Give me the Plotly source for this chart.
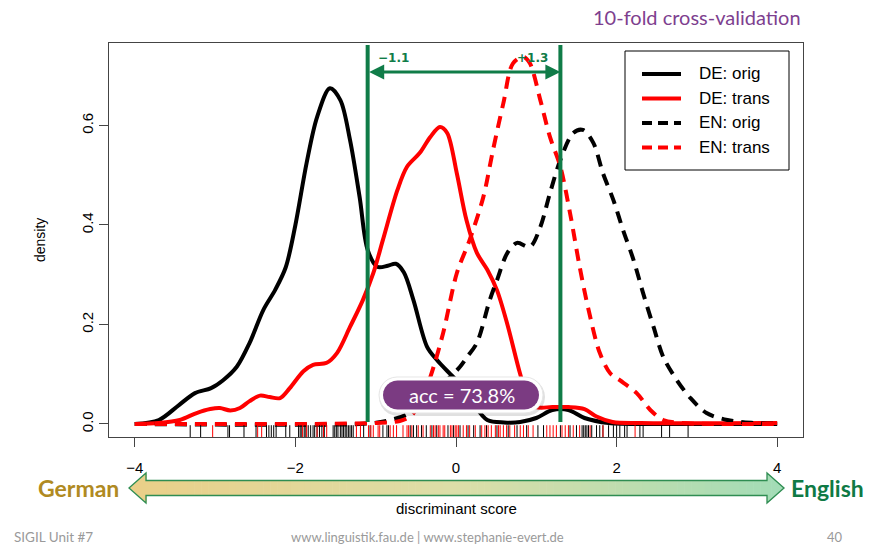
import math
import plotly.graph_objects as go

W, H = 883, 544

# ---- kernel density estimates of the discriminant score ----
de_orig_x = [-4.0, -3.7, -3.45, -3.25, -3.05, -2.9, -2.73, -2.57, -2.40, -2.25, -2.12, -2.0,
             -1.86, -1.73, -1.57, -1.44, -1.32, -1.2, -1.1, -0.98, -0.85, -0.75, -0.65, -0.53,
             -0.36, -0.24, -0.07, 0.1, 0.21, 0.39, 0.6, 0.8, 1.0, 1.2, 1.4, 1.6, 1.9, 2.5, 4.0]
de_orig_y = [0.0, 0.008, 0.038, 0.062, 0.072, 0.088, 0.115, 0.163, 0.229, 0.270, 0.315, 0.40,
             0.525, 0.617, 0.675, 0.651, 0.571, 0.456, 0.350, 0.316, 0.318, 0.322, 0.305, 0.249,
             0.155, 0.129, 0.100, 0.072, 0.042, 0.008, 0.003, 0.004, 0.012, 0.028, 0.028, 0.012,
             0.002, 0.0, 0.0]

de_trans_x = [-4.0, -3.7, -3.44, -3.23, -3.06, -2.94, -2.81, -2.69, -2.57, -2.44, -2.32, -2.19,
              -2.07, -1.9, -1.78, -1.61, -1.48, -1.32, -1.16, -1.03, -0.91, -0.73, -0.61, -0.45,
              -0.32, -0.2, -0.11, 0.01, 0.13, 0.26, 0.39, 0.51, 0.64, 0.8, 0.9, 1.0, 1.2, 1.4,
              1.6, 1.75, 1.95, 2.3, 4.0]
de_trans_y = [0.0, 0.002, 0.008, 0.022, 0.030, 0.032, 0.027, 0.032, 0.046, 0.057, 0.054, 0.052,
              0.072, 0.106, 0.119, 0.123, 0.143, 0.195, 0.249, 0.303, 0.370, 0.470, 0.517, 0.545,
              0.577, 0.597, 0.585, 0.504, 0.410, 0.344, 0.310, 0.269, 0.200, 0.100, 0.050, 0.034,
              0.034, 0.034, 0.030, 0.015, 0.004, 0.002, 0.002]

en_orig_x = [-4.0, -1.2, -0.9, -0.6, -0.3, -0.05, 0.05, 0.14, 0.26, 0.42, 0.51, 0.64, 0.76,
             0.92, 1.05, 1.17, 1.30, 1.46, 1.58, 1.71, 1.83, 1.96, 2.08, 2.21, 2.33, 2.46, 2.58,
             2.75, 2.92, 3.12, 3.38, 3.7, 4.0]
en_orig_y = [0.0, 0.0, 0.005, 0.02, 0.06, 0.098, 0.115, 0.135, 0.163, 0.249, 0.289, 0.344, 0.364,
             0.356, 0.396, 0.464, 0.531, 0.585, 0.591, 0.565, 0.504, 0.450, 0.390, 0.330, 0.263,
             0.195, 0.135, 0.088, 0.052, 0.022, 0.008, 0.002, 0.0]

en_trans_x = [-4.0, -1.0, -0.7, -0.57, -0.45, -0.32, -0.16, 0.01, 0.17, 0.34, 0.46, 0.59, 0.71,
              0.84, 0.92, 1.05, 1.17, 1.30, 1.42, 1.54, 1.65, 1.79, 1.92, 2.04, 2.25, 2.42, 2.58,
              2.8, 4.0]
en_trans_y = [0.0, 0.002, 0.006, 0.015, 0.040, 0.094, 0.183, 0.303, 0.370, 0.456, 0.550, 0.645,
              0.725, 0.738, 0.725, 0.651, 0.577, 0.517, 0.424, 0.316, 0.230, 0.143, 0.102, 0.088,
              0.062, 0.028, 0.008, 0.002, 0.0]

# ---- individual texts (rug) ----
rug_black = [-3.31, -3.18, -2.84, -2.82, -2.64, -2.49, -2.36, -2.33, -2.30, -2.27, -2.24, -2.12,
             -2.07, -1.96, -1.94, -1.92, -1.89, -1.87, -1.84, -1.81, -1.78, -1.76, -1.73, -1.70,
             -1.67, -1.64, -1.53, -1.51, -1.49, -1.47, -1.44, -1.42, -1.40, -1.38, -1.36, -1.34,
             -1.32, -1.30, -1.28, -1.15, -1.07, -0.91, -0.86, -0.84, -0.57, -0.53, -0.49, -0.43,
             -0.37, -0.30, -0.24, -0.10, -0.03, 0.05, 0.15, 0.22, 0.30, 0.38, 0.51, 0.65, 0.76,
             0.88, 1.02, 1.09, 1.30, 1.42, 1.50, 1.57, 1.59, 1.61, 1.63, 1.65, 1.69, 1.75, 1.79,
             1.83, 1.90, 1.96, 2.00, 2.04, 2.10, 2.13, 2.29, 2.33, 2.56, 2.66, 2.89]
rug_red = [-3.03, -2.47, -2.42, -1.91, -1.86, -1.73, -1.65, -1.61, -1.24, -1.19, -1.09, -1.06,
           -1.03, -0.97, -0.95, -0.82, -0.78, -0.74, -0.66, -0.61, -0.59, -0.55, -0.47, -0.41,
           -0.32, -0.28, -0.26, -0.22, -0.20, -0.16, -0.14, -0.07, -0.05, -0.01, 0.01, 0.03,
           0.09, 0.13, 0.17, 0.24, 0.32, 0.36, 0.40, 0.44, 0.49, 0.53, 0.55, 0.59, 0.63, 0.67,
           0.73, 0.80, 0.84, 0.90, 0.96, 1.13, 1.17, 1.21, 1.25, 1.32, 1.36, 1.40, 1.46, 1.54,
           1.67, 1.83, 2.23]

x_ticks = [-4, -2, 0, 2, 4]
y_ticks = [0.0, 0.2, 0.4, 0.6]
cut_lo, cut_hi = -1.1, 1.3
accuracy = 73.8
legend_labels = ["DE: orig", "DE: trans", "EN: orig", "EN: trans"]

# ---- styling ----
GREEN = "#107c48"
PURPLE = "#7b3b82"
LW = 4
series = [
    (de_orig_x, de_orig_y, "black", "solid"),
    (de_trans_x, de_trans_y, "#ff0000", "solid"),
    (en_orig_x, en_orig_y, "black", "12px,8px"),
    (en_trans_x, en_trans_y, "#ff0000", "12px,8px"),
]

XR = [-4.321, 4.321]
YR = [-0.0262, 0.7658]
RUG_TOP = -0.0025


def px(x):
    return x / W


def py(y):
    return 1 - y / H


def path_from(points):
    return "M " + " L ".join(f"{px(a):.5f},{py(b):.5f}" for a, b in points) + " Z"


def pill(cx, cy, w, h):
    r = h / 2
    pts = []
    for i in range(13):
        t = math.pi / 2 + math.pi * i / 12
        pts.append((cx - w / 2 + r + r * math.cos(t), cy - r * math.sin(t)))
    for i in range(13):
        t = -math.pi / 2 + math.pi * i / 12
        pts.append((cx + w / 2 - r + r * math.cos(t), cy - r * math.sin(t)))
    return path_from(pts)


def label(x, y, text, size, color, family="Lato", xanchor="center", angle=0):
    return dict(xref="paper", yref="paper", x=px(x), y=py(y), text=text, showarrow=False,
                xanchor=xanchor, yanchor="middle", textangle=angle,
                font=dict(family=family, size=size, color=color))


fig = go.Figure()

for xs, ys, col, dash in series:
    fig.add_trace(go.Scatter(x=xs, y=ys, mode="lines",
                             line=dict(color=col, width=LW, dash=dash, shape="spline",
                                       smoothing=0.9),
                             hoverinfo="skip", showlegend=False))


def rug_trace(vals, col):
    rx, ry = [], []
    for v in vals:
        rx += [v, v, None]
        ry += [YR[0], RUG_TOP, None]
    return go.Scatter(x=rx, y=ry, mode="lines", line=dict(color=col, width=1),
                      hoverinfo="skip", showlegend=False)


fig.add_trace(rug_trace(rug_black, "black"))
fig.add_trace(rug_trace(rug_red, "#ff0000"))

shapes = []
annotations = []

# threshold lines
for v in (cut_lo, cut_hi):
    shapes.append(dict(type="line", xref="x", yref="y", x0=v, x1=v, y0=0.004, y1=0.762,
                       line=dict(color=GREEN, width=4), layer="above"))

# legend box
shapes.append(dict(type="rect", xref="paper", yref="paper", x0=px(625), x1=px(789), y0=py(170),
                   y1=py(51), line=dict(color="black", width=1), fillcolor="white", layer="above"))
for i, (lab, (_, _, col, dash)) in enumerate(zip(legend_labels, series)):
    yy = 74 + i * 24.5
    shapes.append(dict(type="line", xref="paper", yref="paper", x0=px(642), x1=px(681),
                       y0=py(yy), y1=py(yy),
                       line=dict(color=col, width=LW, dash="solid" if dash == "solid" else "10px,6px"),
                       layer="above"))
    annotations.append(label(697, yy, lab, 17, "black", family="Liberation Sans", xanchor="left"))

# accuracy badge
shapes.append(dict(type="path", xref="paper", yref="paper", path=pill(462, 397, 166, 38),
                   fillcolor="rgba(0,0,0,0.12)", line=dict(width=0), layer="above"))
shapes.append(dict(type="path", xref="paper", yref="paper", path=pill(461, 395, 164, 36),
                   fillcolor="white", line=dict(color="#e6e6e6", width=1), layer="above"))
shapes.append(dict(type="path", xref="paper", yref="paper", path=pill(461, 395, 156, 29),
                   fillcolor=PURPLE, line=dict(width=0), layer="above"))
annotations.append(label(462, 395, f"acc = {accuracy}%", 20, "white"))

# gradient double arrow under the x axis
L_TIP, L_HEAD, R_HEAD, R_TIP = 129, 146, 767, 784
CY, SHAFT, HEAD = 488, 7.5, 15


def halfh(x, side):
    if x < L_HEAD or (x == L_HEAD and side == "l"):
        return HEAD * (x - L_TIP) / (L_HEAD - L_TIP)
    if x > R_HEAD or (x == R_HEAD and side == "r"):
        return HEAD * (R_TIP - x) / (R_TIP - R_HEAD)
    return SHAFT


c_left, c_mid, c_right = (234, 207, 136), (220, 222, 168), (162, 220, 182)


def grad(t):
    if t < 0.5:
        a, b, u = c_left, c_mid, t / 0.5
    else:
        a, b, u = c_mid, c_right, (t - 0.5) / 0.5
    return "rgb(%d,%d,%d)" % tuple(round(a[k] + (b[k] - a[k]) * u) for k in range(3))


edges = [L_TIP + (L_HEAD - L_TIP) * i / 4 for i in range(4)]
edges += [L_HEAD + (R_HEAD - L_HEAD) * i / 90 for i in range(90)]
edges += [R_HEAD + (R_TIP - R_HEAD) * i / 4 for i in range(5)]
for a, b in zip(edges[:-1], edges[1:]):
    ha, hb = halfh(a, "r"), halfh(b, "l")
    b2 = b + 0.6
    t = ((a + b) / 2 - L_TIP) / (R_TIP - L_TIP)
    shapes.append(dict(type="path", xref="paper", yref="paper",
                       path=path_from([(a, CY - ha), (b2, CY - hb), (b2, CY + hb), (a, CY + ha)]),
                       fillcolor=grad(t), line=dict(width=0), layer="above"))
outline = [(L_TIP, CY), (L_HEAD, CY - HEAD), (L_HEAD, CY - SHAFT), (R_HEAD, CY - SHAFT),
           (R_HEAD, CY - HEAD), (R_TIP, CY), (R_HEAD, CY + HEAD), (R_HEAD, CY + SHAFT),
           (L_HEAD, CY + SHAFT), (L_HEAD, CY + HEAD)]
shapes.append(dict(type="path", xref="paper", yref="paper", path=path_from(outline),
                   line=dict(color="#2f8d52", width=1.3), layer="above"))

# double-headed arrow between the thresholds
annotations.append(dict(x=cut_hi, y=0.7075, ax=cut_lo, ay=0.7075, xref="x", yref="y",
                        axref="x", ayref="y", text="", showarrow=True, arrowside="end+start",
                        arrowhead=2, arrowsize=1, arrowwidth=3, arrowcolor=GREEN))
annotations.append(label(393, 58, "<b>−1.1</b>", 12, GREEN, family="DejaVu Sans"))
annotations.append(label(532, 58, "<b>+1.3</b>", 12, GREEN, family="DejaVu Sans"))

# texts
annotations += [
    label(803, 17, "10-fold cross-validation", 20, "#7e3f8f", xanchor="right"),
    label(40, 240, "density", 14, "black", family="Liberation Sans", angle=-90),
    label(456, 508, "discriminant score", 15, "black", family="Liberation Sans"),
    label(121, 488, "<b>German</b>", 23, "#b08a22", xanchor="right"),
    label(789, 488, "<b>English</b>", 23, "#0f7a45", xanchor="left"),
    label(12, 537, "SIGIL Unit #7", 13.5, "#9a9a9a", xanchor="left"),
    label(427, 537, "www.linguistik.fau.de | www.stephanie-evert.de", 13, "#9a9a9a"),
    label(835, 537, "40", 13, "#9a9a9a"),
]

fig.update_layout(
    width=W, height=H, margin=dict(l=0, r=0, t=0, b=0),
    paper_bgcolor="white", plot_bgcolor="white",
    xaxis=dict(domain=[px(109), px(803)], range=XR, tickvals=x_ticks, ticks="outside", ticklen=9,
               tickcolor="#444", showline=True, mirror=True, linecolor="#444", linewidth=1,
               showgrid=False, zeroline=False, ticklabelstandoff=8,
               tickfont=dict(family="Liberation Sans", size=15, color="black")),
    yaxis=dict(domain=[1 - 437 / H, 1 - 43 / H], range=YR, tickvals=y_ticks, tickformat=".1f",
               ticks="outside", ticklen=9, tickcolor="#444", showline=True, mirror=True,
               linecolor="#444", linewidth=1, showgrid=False, zeroline=False, tickangle=-90,
               ticklabelstandoff=0,
               tickfont=dict(family="Liberation Sans", size=15, color="black")),
    shapes=shapes, annotations=annotations,
)

fig.write_html("out.html")
